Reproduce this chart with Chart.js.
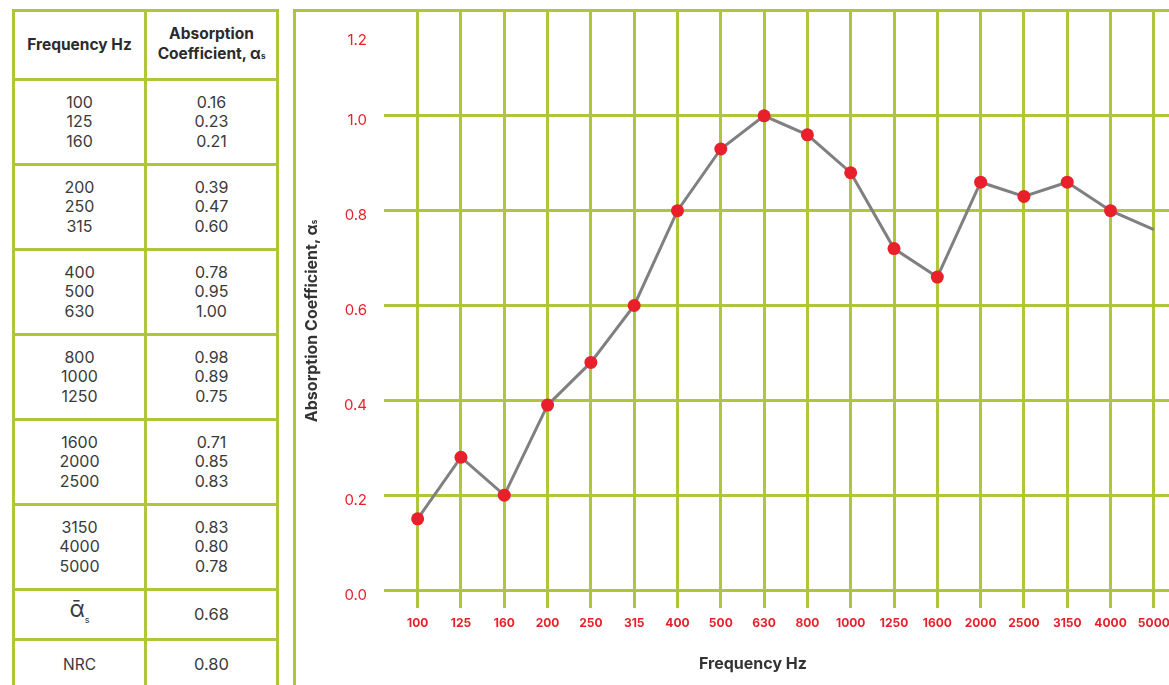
<!DOCTYPE html>
<html>
<head>
<meta charset="utf-8">
<script src="https://cdn.jsdelivr.net/npm/chart.js@4.4.1/dist/chart.umd.min.js"></script>
<style>
    html, body { margin: 0; padding: 0; background: #fff; }
    body { width: 1169px; height: 685px; overflow: hidden; position: relative; font-family: Inter, "DejaVu Sans", sans-serif; color: #333; }
    #table { position: absolute; left: 12px; top: 9px; border-collapse: collapse; width: 267px; }
    #table td { border: 3px solid #b1c53c; text-align: center; padding: 0; font-size: 16px; line-height: 19.5px; color: #3a3a3a; }
    #table .head td { height: 66px; font-weight: 700; font-size: 15.5px; line-height: 20px; color: #2b2b2b; }
    #table .grp td { height: 82px; }
    #table .sum td { height: 47px; }
    #panel { position: absolute; left: 293px; top: 9px; width: 1000px; height: 700px; border-left: 3px solid #b1c53c; border-top: 3px solid #b1c53c; }
    #wrap { position: absolute; left: 296px; top: 5px; width: 886px; height: 680px; }
    .xtitle { position: absolute; left: 653px; width: 200px; top: 653px; text-align: center; font-weight: 700; font-size: 16px; color: #333; }
    .ytitle { position: absolute; left: 213px; top: 310px; width: 220px; margin-left: -10px; text-align: center; font-weight: 700; font-size: 16px; line-height: 19px; color: #333; transform: rotate(-90deg); white-space: nowrap; }
    sub.s { font-size: 8px; vertical-align: baseline; }
</style>
</head>
<body>
<table id="table"></table>
<div id="panel"></div>
<div id="wrap"><canvas id="absorption"></canvas></div>
<div class="xtitle">Frequency Hz</div>
<div class="ytitle">Absorption Coefficient, α<sub class="s">s</sub></div>

<script>
var frequencies = ['100', '125', '160', '200', '250', '315', '400', '500', '630', '800', '1000', '1250', '1600', '2000', '2500', '3150', '4000', '5000']
// values printed in the table
var coefficients = ['0.16', '0.23', '0.21', '0.39', '0.47', '0.60', '0.78', '0.95', '1.00', '0.98', '0.89', '0.75', '0.71', '0.85', '0.83', '0.83', '0.80', '0.78']
// values as plotted on the chart
var plotted = [0.15, 0.28, 0.20, 0.39, 0.48, 0.60, 0.80, 0.93, 1.00, 0.96, 0.88, 0.72, 0.66, 0.86, 0.83, 0.86, 0.80, 0.76]
var meanCoefficient = '0.68'
var nrc = '0.80'
var yMax = 1.22
var yStep = 0.2

var green = '#b1c53c'
var red = '#e8202b'

buildTable()
drawChart()


function buildTable() {
    var table = document.querySelector('#table')
    var html = '<tr class="head"><td style="width:129px">Frequency Hz</td><td>Absorption<br>Coefficient, α<sub class="s">s</sub></td></tr>'

    for (i = 0; i < frequencies.length; i += 3) {
        html += '<tr class="grp"><td>' + frequencies.slice(i, i + 3).join('<br>') + '</td>'
        html += '<td>' + coefficients.slice(i, i + 3).join('<br>') + '</td></tr>'
    }

    html += '<tr class="sum"><td style="font-size:23px">ᾱ<sub style="font-size:9px">s</sub></td><td style="font-size:16.5px">' + meanCoefficient + '</td></tr>'
    html += '<tr class="sum"><td style="font-size:15.5px">NRC</td><td style="font-size:16.5px">' + nrc + '</td></tr>'
    table.innerHTML = html
}

function drawChart() {
    var canvas = document.querySelector('#absorption')

    var lineData = {
        label: 'Absorption Coefficient',
        data: plotted,
        borderColor: '#808081',
        borderWidth: 3,
        tension: 0,
        pointRadius: function (ctx) { return ctx.dataIndex === plotted.length - 1 ? 0 : 6.5 },
        pointHoverRadius: 6.5,
        pointBackgroundColor: red,
        pointBorderWidth: 0
    }

    var lineChart = new Chart(canvas, {
        type: 'line',
        data: {
            labels: frequencies,
            datasets: [lineData]
        },
        options: {
            responsive: true,
            maintainAspectRatio: false,
            animation: false,
            layout: { padding: 0 },
            plugins: {
                legend: { display: false },
                tooltip: { enabled: false }
            },
            scales: {
                x: {
                    offset: true,
                    border: { display: false },
                    grid: { color: green, lineWidth: 3, tickLength: 18, offset: false },
                    ticks: {
                        color: red,
                        padding: 8,
                        maxRotation: 0,
                        autoSkip: false,
                        font: { family: 'Inter, sans-serif', size: 12, weight: '700' }
                    },
                    afterFit: function (s) {
                        s.height = 95
                        s.paddingLeft = 0
                        s.paddingRight = 0
                    }
                },
                y: {
                    min: 0,
                    max: yMax,
                    border: { display: false },
                    grid: {
                        lineWidth: 3,
                        tickLength: 12,
                        color: function (ctx) { return ctx.tick && ctx.tick.value > 1.1 ? 'rgba(0,0,0,0)' : green }
                    },
                    ticks: {
                        stepSize: yStep,
                        includeBounds: false,
                        color: red,
                        padding: 17,
                        labelOffset: 5,
                        font: function (ctx) {
                            // top label sits lower in the original, push it down a line
                            if (ctx.tick && ctx.tick.value > 1.1) return { family: 'Inter, sans-serif', size: 15, lineHeight: 2 }
                            return { family: 'Inter, sans-serif', size: 15 }
                        },
                        callback: function (v) { return v > 1.1 ? ['', v.toFixed(1)] : v.toFixed(1) }
                    },
                    afterFit: function (s) {
                        s.width = 100
                        s.paddingTop = 0
                        s.paddingBottom = 0
                    }
                }
            }
        }
    })
}
</script>
</body>
</html>
